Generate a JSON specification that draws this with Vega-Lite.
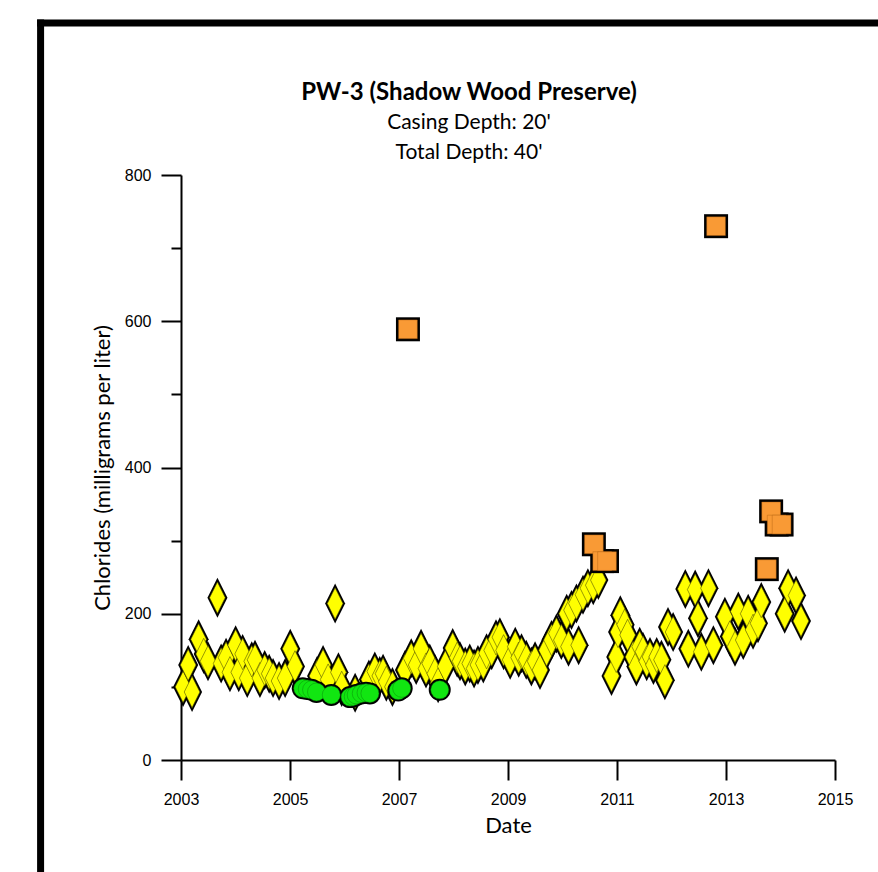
{
  "$schema": "https://vega.github.io/schema/vega-lite/v6.json",
  "autosize": {"type": "none"},
  "padding": {"left": 181, "top": 175, "right": 43, "bottom": 112},
  "width": 654,
  "height": 585,
  "background": "white",
  "config": {
    "view": {"stroke": null},
    "axis": {
      "domainColor": "black", "domainWidth": 2, "tickColor": "black", "tickWidth": 2,
      "labelFont": "Liberation Sans", "labelFontSize": 16, "labelColor": "black",
      "titleFont": "Lato", "titleFontSize": 22, "titleFontWeight": "normal", "titleColor": "black",
      "grid": false
    }
  },
  "title": {
    "text": "PW-3 (Shadow Wood Preserve)",
    "subtitle": ["Casing Depth:  20'", "Total Depth:  40'"],
    "font": "Lato", "fontSize": 24, "fontWeight": "bold", "color": "black",
    "subtitleFont": "Lato", "subtitleFontSize": 21, "subtitleColor": "black",
    "subtitlePadding": 7, "subtitleLineHeight": 30, "offset": -145, "anchor": "middle", "dx": -39
  },
  "datasets": {
    "samples": [
      {"date": "2003-01-15", "cl": 100, "grp": "A"},
      {"date": "2003-02-18", "cl": 130, "grp": "A"},
      {"date": "2003-03-16", "cl": 93, "grp": "A"},
      {"date": "2003-04-29", "cl": 165, "grp": "A"},
      {"date": "2003-06-02", "cl": 145, "grp": "A"},
      {"date": "2003-07-01", "cl": 135, "grp": "A"},
      {"date": "2003-09-02", "cl": 222, "grp": "A"},
      {"date": "2003-09-27", "cl": 132, "grp": "A"},
      {"date": "2003-10-30", "cl": 140, "grp": "A"},
      {"date": "2003-11-25", "cl": 120, "grp": "A"},
      {"date": "2004-01-02", "cl": 157, "grp": "A"},
      {"date": "2004-01-23", "cl": 120, "grp": "A"},
      {"date": "2004-02-18", "cl": 145, "grp": "A"},
      {"date": "2004-03-20", "cl": 112, "grp": "A"},
      {"date": "2004-04-19", "cl": 135, "grp": "A"},
      {"date": "2004-05-11", "cl": 137, "grp": "A"},
      {"date": "2004-06-13", "cl": 112, "grp": "A"},
      {"date": "2004-07-15", "cl": 123, "grp": "A"},
      {"date": "2004-08-14", "cl": 118, "grp": "A"},
      {"date": "2004-09-09", "cl": 112, "grp": "A"},
      {"date": "2004-10-19", "cl": 108, "grp": "A"},
      {"date": "2004-11-29", "cl": 112, "grp": "A"},
      {"date": "2005-01-02", "cl": 152, "grp": "A"},
      {"date": "2005-02-03", "cl": 128, "grp": "A"},
      {"date": "2005-07-01", "cl": 115, "grp": "A"},
      {"date": "2005-08-10", "cl": 130, "grp": "A"},
      {"date": "2005-09-13", "cl": 110, "grp": "A"},
      {"date": "2005-10-30", "cl": 214, "grp": "A"},
      {"date": "2005-11-21", "cl": 120, "grp": "A"},
      {"date": "2005-12-13", "cl": 100, "grp": "A"},
      {"date": "2006-03-13", "cl": 92, "grp": "A"},
      {"date": "2006-06-13", "cl": 110, "grp": "A"},
      {"date": "2006-07-23", "cl": 121, "grp": "A"},
      {"date": "2006-08-25", "cl": 115, "grp": "A"},
      {"date": "2006-09-16", "cl": 118, "grp": "A"},
      {"date": "2006-10-08", "cl": 107, "grp": "A"},
      {"date": "2006-11-18", "cl": 100, "grp": "A"},
      {"date": "2007-02-10", "cl": 123, "grp": "A"},
      {"date": "2007-03-24", "cl": 139, "grp": "A"},
      {"date": "2007-04-26", "cl": 130, "grp": "A"},
      {"date": "2007-05-29", "cl": 152, "grp": "A"},
      {"date": "2007-07-01", "cl": 125, "grp": "A"},
      {"date": "2007-07-26", "cl": 132, "grp": "A"},
      {"date": "2007-08-29", "cl": 118, "grp": "A"},
      {"date": "2007-09-20", "cl": 105, "grp": "A"},
      {"date": "2007-11-07", "cl": 128, "grp": "A"},
      {"date": "2007-12-27", "cl": 153, "grp": "A"},
      {"date": "2008-01-26", "cl": 140, "grp": "A"},
      {"date": "2008-02-14", "cl": 135, "grp": "A"},
      {"date": "2008-03-20", "cl": 128, "grp": "A"},
      {"date": "2008-04-19", "cl": 132, "grp": "A"},
      {"date": "2008-05-18", "cl": 125, "grp": "A"},
      {"date": "2008-06-13", "cl": 130, "grp": "A"},
      {"date": "2008-07-19", "cl": 132, "grp": "A"},
      {"date": "2008-08-10", "cl": 146, "grp": "A"},
      {"date": "2008-09-13", "cl": 150, "grp": "A"},
      {"date": "2008-10-12", "cl": 165, "grp": "A"},
      {"date": "2008-11-07", "cl": 168, "grp": "A"},
      {"date": "2008-12-02", "cl": 150, "grp": "A"},
      {"date": "2009-01-15", "cl": 137, "grp": "A"},
      {"date": "2009-02-18", "cl": 155, "grp": "A"},
      {"date": "2009-03-13", "cl": 140, "grp": "A"},
      {"date": "2009-04-01", "cl": 146, "grp": "A"},
      {"date": "2009-05-03", "cl": 137, "grp": "A"},
      {"date": "2009-06-06", "cl": 128, "grp": "A"},
      {"date": "2009-07-01", "cl": 135, "grp": "A"},
      {"date": "2009-08-03", "cl": 123, "grp": "A"},
      {"date": "2009-09-16", "cl": 150, "grp": "A"},
      {"date": "2009-10-19", "cl": 164, "grp": "A"},
      {"date": "2009-11-21", "cl": 173, "grp": "A"},
      {"date": "2009-12-24", "cl": 164, "grp": "A"},
      {"date": "2010-01-29", "cl": 200, "grp": "A"},
      {"date": "2010-02-10", "cl": 155, "grp": "A"},
      {"date": "2010-03-02", "cl": 205, "grp": "A"},
      {"date": "2010-04-04", "cl": 214, "grp": "A"},
      {"date": "2010-04-19", "cl": 157, "grp": "A"},
      {"date": "2010-05-18", "cl": 226, "grp": "A"},
      {"date": "2010-06-20", "cl": 235, "grp": "A"},
      {"date": "2010-07-26", "cl": 239, "grp": "A"},
      {"date": "2010-08-29", "cl": 246, "grp": "A"},
      {"date": "2010-11-25", "cl": 115, "grp": "A"},
      {"date": "2010-12-27", "cl": 141, "grp": "A"},
      {"date": "2011-01-08", "cl": 175, "grp": "A"},
      {"date": "2011-01-23", "cl": 198, "grp": "A"},
      {"date": "2011-02-21", "cl": 185, "grp": "A"},
      {"date": "2011-03-13", "cl": 171, "grp": "A"},
      {"date": "2011-04-19", "cl": 141, "grp": "A"},
      {"date": "2011-05-11", "cl": 128, "grp": "A"},
      {"date": "2011-06-02", "cl": 155, "grp": "A"},
      {"date": "2011-06-24", "cl": 148, "grp": "A"},
      {"date": "2011-07-19", "cl": 135, "grp": "A"},
      {"date": "2011-08-10", "cl": 141, "grp": "A"},
      {"date": "2011-09-02", "cl": 130, "grp": "A"},
      {"date": "2011-09-24", "cl": 141, "grp": "A"},
      {"date": "2011-10-26", "cl": 137, "grp": "A"},
      {"date": "2011-11-18", "cl": 109, "grp": "A"},
      {"date": "2011-12-09", "cl": 182, "grp": "A"},
      {"date": "2012-01-12", "cl": 175, "grp": "A"},
      {"date": "2012-04-03", "cl": 234, "grp": "A"},
      {"date": "2012-04-23", "cl": 152, "grp": "A"},
      {"date": "2012-06-08", "cl": 233, "grp": "A"},
      {"date": "2012-06-27", "cl": 194, "grp": "A"},
      {"date": "2012-07-19", "cl": 148, "grp": "A"},
      {"date": "2012-09-05", "cl": 235, "grp": "A"},
      {"date": "2012-10-08", "cl": 157, "grp": "A"},
      {"date": "2012-12-24", "cl": 196, "grp": "A"},
      {"date": "2013-01-26", "cl": 169, "grp": "A"},
      {"date": "2013-03-02", "cl": 155, "grp": "A"},
      {"date": "2013-03-24", "cl": 203, "grp": "A"},
      {"date": "2013-04-26", "cl": 164, "grp": "A"},
      {"date": "2013-05-29", "cl": 200, "grp": "A"},
      {"date": "2013-07-01", "cl": 178, "grp": "A"},
      {"date": "2013-08-03", "cl": 187, "grp": "A"},
      {"date": "2013-08-25", "cl": 216, "grp": "A"},
      {"date": "2014-01-29", "cl": 200, "grp": "A"},
      {"date": "2014-02-21", "cl": 235, "grp": "A"},
      {"date": "2014-04-15", "cl": 225, "grp": "A"},
      {"date": "2014-05-18", "cl": 190, "grp": "A"},
      {"date": "2005-03-27", "cl": 98, "grp": "B"},
      {"date": "2005-04-26", "cl": 97, "grp": "B"},
      {"date": "2005-05-25", "cl": 96, "grp": "B"},
      {"date": "2005-06-27", "cl": 93, "grp": "B"},
      {"date": "2005-10-04", "cl": 89, "grp": "B"},
      {"date": "2006-02-07", "cl": 86, "grp": "B"},
      {"date": "2006-02-28", "cl": 87, "grp": "B"},
      {"date": "2006-03-20", "cl": 89, "grp": "B"},
      {"date": "2006-04-23", "cl": 91, "grp": "B"},
      {"date": "2006-05-25", "cl": 92, "grp": "B"},
      {"date": "2006-06-20", "cl": 91, "grp": "B"},
      {"date": "2006-12-27", "cl": 95, "grp": "B"},
      {"date": "2007-01-19", "cl": 98, "grp": "B"},
      {"date": "2007-10-01", "cl": 96, "grp": "B"},
      {"date": "2007-03-02", "cl": 589, "grp": "C"},
      {"date": "2010-07-30", "cl": 295, "grp": "C"},
      {"date": "2010-09-24", "cl": 272, "grp": "C"},
      {"date": "2010-10-26", "cl": 272, "grp": "C"},
      {"date": "2012-10-26", "cl": 730, "grp": "C"},
      {"date": "2013-10-01", "cl": 261, "grp": "C"},
      {"date": "2013-10-30", "cl": 340, "grp": "C"},
      {"date": "2013-12-06", "cl": 322, "grp": "C"},
      {"date": "2014-01-08", "cl": 322, "grp": "C"}
    ],
    "frame": [
      {"x0": "2000-06-04", "x1": "2000-06-04", "y0": -300, "y1": 1008},
      {"x0": "2000-06-04", "x1": "2016-03-01", "y0": 1008, "y1": 1008}
    ]
  },
  "data": {"name": "samples"},
  "encoding": {
    "x": {
      "field": "date", "type": "temporal", "title": "Date",
      "scale": {"domain": [{"year": 2003, "month": 1, "date": 1}, {"year": 2015, "month": 1, "date": 1}]},
      "axis": {
        "values": [{"year": 2003}, {"year": 2005}, {"year": 2007}, {"year": 2009}, {"year": 2011}, {"year": 2013}, {"year": 2015}],
        "format": "%Y", "tickSize": 20, "labelPadding": 11, "titlePadding": 8, "labelFlush": false, "labelOverlap": false
      }
    },
    "y": {
      "field": "cl", "type": "quantitative", "title": "Chlorides (milligrams per liter)",
      "scale": {"domain": [0, 800], "nice": false},
      "axis": {
        "values": [0, 100, 200, 300, 400, 500, 600, 700, 800],
        "labelExpr": "datum.value % 200 === 0 ? datum.label : ''",
        "tickSize": {"condition": {"test": "datum.value % 200 === 0", "value": 20}, "value": 10},
        "labelPadding": 10, "titlePadding": 10, "labelFlush": false, "labelOverlap": false
      }
    }
  },
  "layer": [
    {
      "data": {"name": "frame"},
      "mark": {"type": "rule", "color": "black", "strokeWidth": 7, "strokeCap": "square"},
      "encoding": {
        "x": {"field": "x0", "type": "temporal", "title": "Date"},
        "x2": {"field": "x1"},
        "y": {"field": "y0", "type": "quantitative", "title": "Chlorides (milligrams per liter)"},
        "y2": {"field": "y1"}
      }
    },
    {
      "transform": [{"filter": "datum.grp === 'A'"}],
      "mark": {"type": "point", "filled": true, "shape": "M0,-1L0.5,0L0,1L-0.5,0Z", "size": 1600, "color": "black", "opacity": 1, "strokeWidth": 0}
    },
    {
      "transform": [{"filter": "datum.grp === 'A'"}],
      "mark": {"type": "point", "filled": true, "shape": "M0,-1L0.5,0L0,1L-0.5,0Z", "size": 980, "fill": "#ffff00", "opacity": 1, "stroke": "#4a4a00", "strokeWidth": 0.7, "strokeOpacity": 0.8}
    },
    {
      "transform": [{"filter": "datum.grp === 'B'"}],
      "mark": {"type": "point", "filled": true, "shape": "circle", "size": 484, "color": "black", "opacity": 1, "strokeWidth": 0}
    },
    {
      "transform": [{"filter": "datum.grp === 'B'"}],
      "mark": {"type": "point", "filled": true, "shape": "circle", "size": 324, "fill": "#11e611", "opacity": 1, "stroke": "#0a7a0a", "strokeWidth": 0.6, "strokeOpacity": 0.7}
    },
    {
      "transform": [{"filter": "datum.grp === 'C'"}],
      "mark": {"type": "point", "filled": true, "shape": "square", "size": 576, "color": "black", "opacity": 1, "strokeWidth": 0}
    },
    {
      "transform": [{"filter": "datum.grp === 'C'"}],
      "mark": {"type": "point", "filled": true, "shape": "square", "size": 350, "fill": "#f99a35", "opacity": 1, "stroke": "#b06010", "strokeWidth": 0.6, "strokeOpacity": 0.7}
    }
  ]
}
